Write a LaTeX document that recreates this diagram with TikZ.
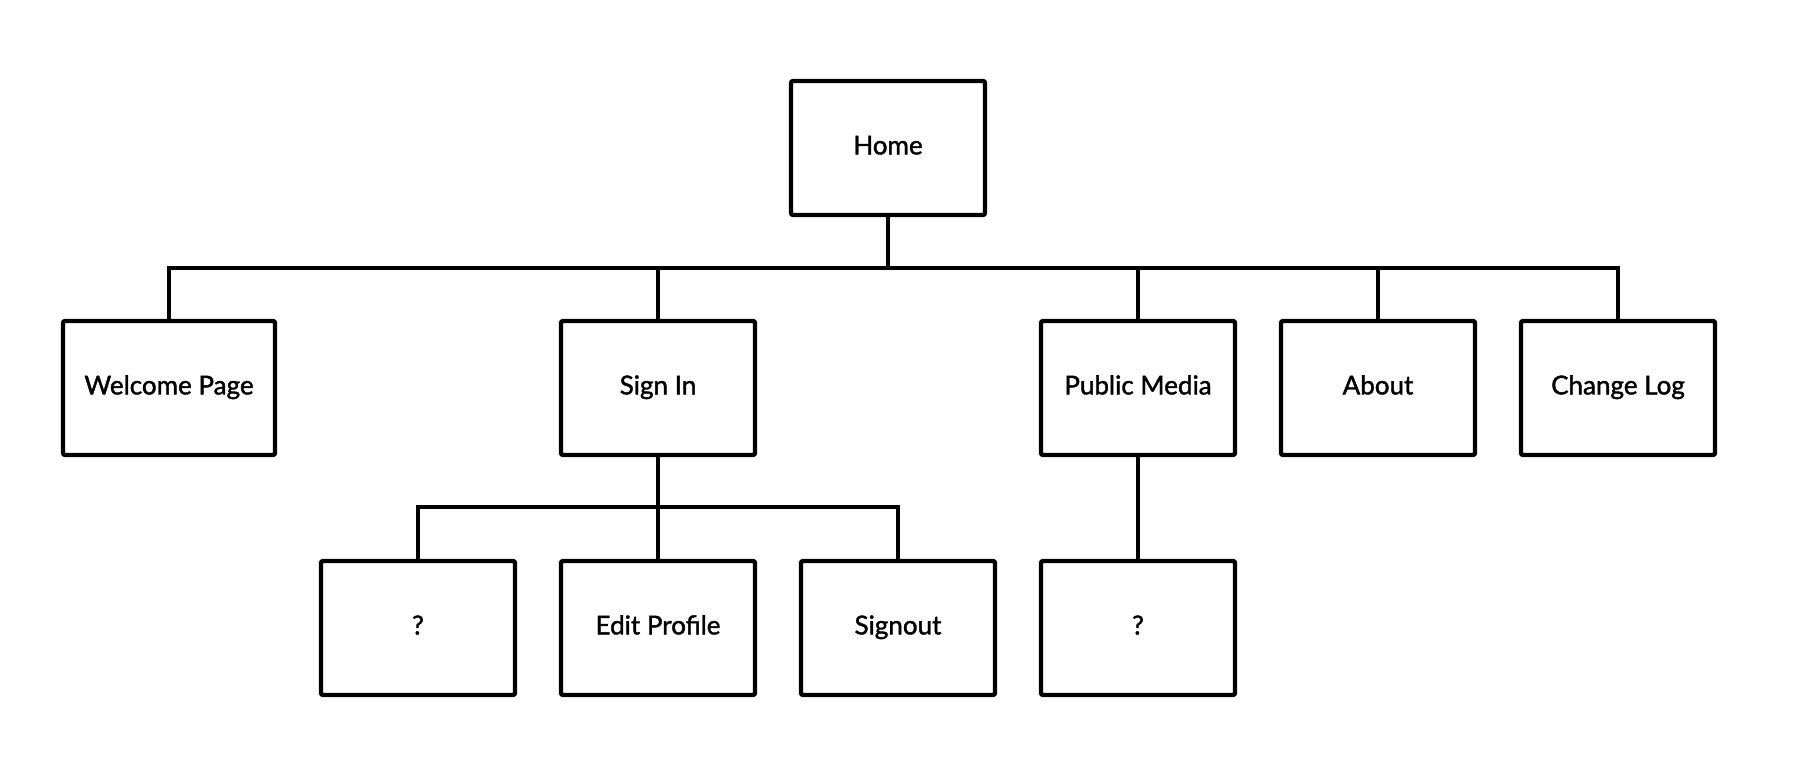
\documentclass[tikz,border=0pt]{standalone}
\usepackage{fontspec}
\setmainfont{Lato}
\newfontfamily\pagefont{Lato}[FakeBold=1.5]

\begin{document}
\begin{tikzpicture}[
		  page/.style={draw, line width=3.1pt, rounded corners=1.5pt, minimum width=4.85cm,
		      minimum height=3.35cm, align=center, text height=2.3ex, text depth=.5ex,
		      font=\pagefont\fontsize{18.5}{22}\selectfont},
		  link/.style={line width=2.4pt}]
		  \useasboundingbox (0,0) rectangle (44.9,19.15);
		  \coordinate (bar) at (0,12.45);
		  \coordinate (subbar) at (0,6.475);
		  % top level
		  \node[page] (home) at (22.2,15.45) {Home};
		  % first row
		  \node[page, minimum width=5.3cm] (welcome) at (4.225,9.45) {Welcome Page};
		  \node[page] (signin) at (16.45,9.45) {Sign In};
		  \node[page] (media) at (28.45,9.45) {Public Media};
		  \node[page] (about) at (34.45,9.45) {About};
		  \node[page] (changelog) at (40.45,9.45) {Change Log};
		  % second row
		  \node[page] (unknown) at (10.45,3.45) {?};
		  \node[page] (editprofile) at (16.45,3.45) {Edit Profile};
		  \node[page] (signout) at (22.45,3.45) {Signout};
		  \node[page] (mediaitem) at (28.45,3.45) {?};
		  % links
		  \draw[link] (home.south) -- (home.south |- bar);
		  \draw[link] (welcome.north) -- (welcome.north |- bar) -- (changelog.north |- bar) -- (changelog.north);
		  \foreach \n in {signin,media,about}
		    \draw[link] (\n.north) -- (\n.north |- bar);
		  \draw[link] (signin.south) -- (editprofile.north);
		  \draw[link] (unknown.north) -- (unknown.north |- subbar) -- (signout.north |- subbar) -- (signout.north);
		  \draw[link] (media.south) -- (mediaitem.north);
\end{tikzpicture}
\end{document}
